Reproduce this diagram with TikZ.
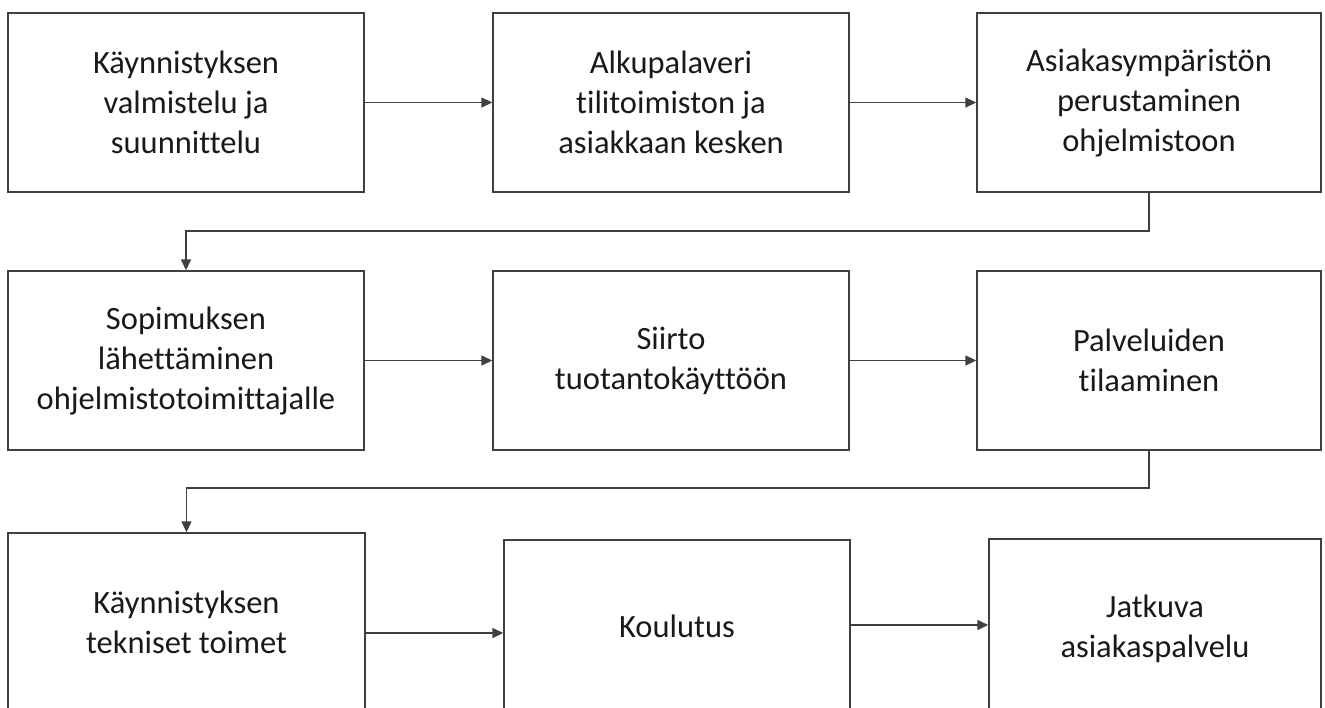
\documentclass[tikz,border=0pt]{standalone}
\usepackage{fontspec}
\setmainfont[Ligatures=NoCommon]{Carlito}
\usetikzlibrary{arrows.meta}
\definecolor{linec}{HTML}{404040}
\tikzset{
  box/.style={draw=linec, line width=1.4pt, rectangle, inner sep=0pt, align=center,
    font=\fontsize{32.5}{40}\selectfont, text=black!90},
  arr/.style={draw=linec, line width=1.4pt, -{Triangle[length=11pt,width=10pt]}},
}
\begin{document}
\begin{tikzpicture}[x=1pt,y=-1pt]
\useasboundingbox (0,0) rectangle (1325,707);
\clip (0,0) rectangle (1325,707);
% row 1
\node[box, minimum width=356pt, minimum height=179pt] (b1) at (186,102.5) {Käynnistyksen\\valmistelu ja\\suunnittelu};
\node[box, minimum width=356pt, minimum height=179pt] (b2) at (671,102.5) {Alkupalaveri\\tilitoimiston ja\\asiakkaan kesken};
\node[box, minimum width=344pt, minimum height=179pt] (b3) at (1149,102.5) {Asiakasympäristön\\perustaminen\\ohjelmistoon};
% row 2
\node[box, minimum width=356pt, minimum height=179pt] (b4) at (186,360.5) {Sopimuksen\\lähettäminen\\ohjelmistotoimittajalle};
\node[box, minimum width=356pt, minimum height=179pt] (b5) at (671,360.5) {Siirto\\tuotantokäyttöön};
\node[box, minimum width=344pt, minimum height=179pt] (b6) at (1149,360.5) {Palveluiden\\tilaaminen};
% row 3
\node[box, minimum width=357pt, minimum height=179pt] (b7) at (186.5,622.5) {Käynnistyksen\\tekniset toimet};
\node[box, minimum width=346pt, minimum height=172pt] (b8) at (677,626) {Koulutus};
\node[box, minimum width=332pt, minimum height=179pt] (b9) at (1155,628.5) {Jatkuva\\asiakaspalvelu};
% connectors
\draw[arr] (b1) -- (b2);
\draw[arr] (b2) -- (b3);
\draw[arr] (b3.south) -- (b3.south |- 0,231) -| (b4.north);
\draw[arr] (b4) -- (b5);
\draw[arr] (b5) -- (b6);
\draw[arr] (b6.south) -- (b6.south |- 0,488) -| (b7.north);
\draw[arr] (b7.east |- 0,633) -- (b8.west |- 0,633);
\draw[arr] (b8.east |- 0,625) -- (b9.west |- 0,625);
\end{tikzpicture}
\end{document}
